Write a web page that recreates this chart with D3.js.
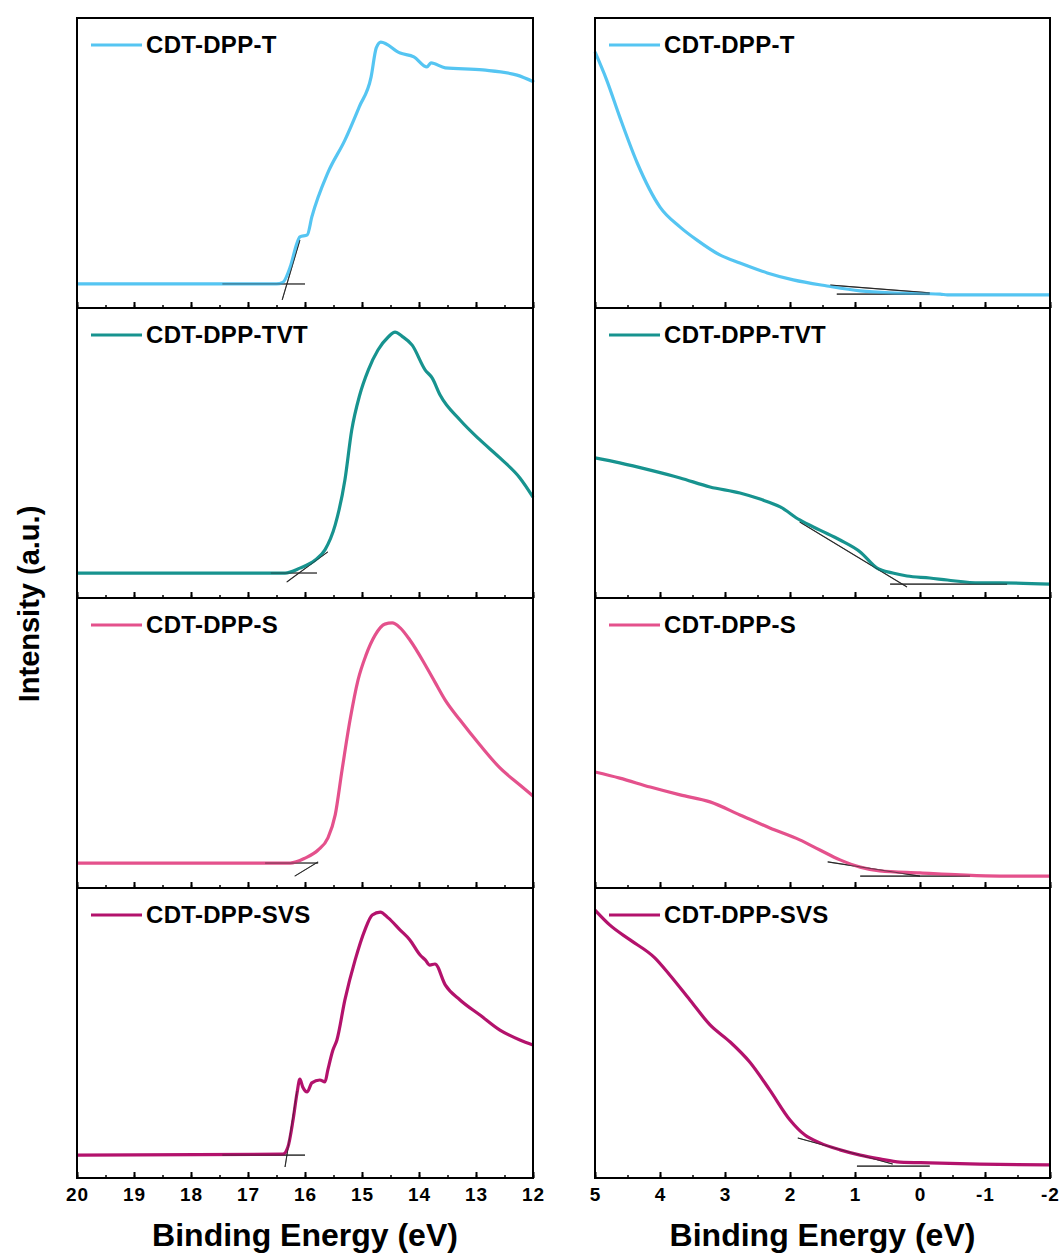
<!DOCTYPE html>
<meta charset="utf-8">
<head>
<title>UPS spectra</title>
<script src="https://d3js.org/d3.v7.min.js"></script>
<style>
  body { margin: 0; background: #fff; }
  text { font-family: "Liberation Sans", Arial, sans-serif; font-weight: bold; }
</style>
</head>
<div id="chart"></div>
<script>
  // series names / colours
  var names = ["CDT-DPP-T", "CDT-DPP-TVT", "CDT-DPP-S", "CDT-DPP-SVS"];
  var colors = ["#55c5f2", "#17938f", "#e4518c", "#b3126c"];

  var leftTicks = [20, 19, 18, 17, 16, 15, 14, 13, 12];
  var rightTicks = [5, 4, 3, 2, 1, 0, -1, -2];

  // [binding energy, intensity] (left = cutoff, right = onset)
  var leftT = [[20,0.083],[17.5,0.083],[16.5,0.083],[16.39,0.088],[16.26,0.141],[16.14,0.224],[16.09,0.245],[15.96,0.252],
    [15.88,0.314],[15.6,0.466],[15.3,0.579],[15.05,0.693],[14.84,0.797],[14.75,0.897],[14.67,0.917],[14.33,0.879],
    [14.09,0.866],[13.86,0.831],[13.79,0.845],[13.54,0.828],[12.88,0.821],[12.28,0.803],[11.98,0.779]];
  var rightT = [[5,0.883],[4.82,0.786],[4.62,0.659],[4.35,0.5],[4,0.348],[3.69,0.279],[3.43,0.234],[3.08,0.183],
    [2.77,0.155],[2.35,0.121],[1.95,0.097],[1.43,0.076],[0.92,0.059],[0.46,0.052],[-0.31,0.048],[-0.42,0.045],[-2,0.045]];

  var leftTVT = [[20,0.086],[16.35,0.086],[16.09,0.103],[15.82,0.131],[15.65,0.166],[15.47,0.252],[15.3,0.407],
    [15.18,0.579],[15.04,0.7],[14.89,0.786],[14.72,0.855],[14.54,0.9],[14.42,0.917],[14.3,0.903],[14.12,0.872],
    [13.89,0.786],[13.77,0.759],[13.63,0.7],[13.28,0.614],[12.93,0.545],[12.58,0.483],[12.23,0.414],[12,0.348]];
  var rightTVT = [[5,0.483],[4.62,0.466],[4.15,0.441],[3.69,0.414],[3.23,0.383],[2.77,0.362],[2.46,0.341],[2.15,0.314],
    [1.85,0.269],[1.54,0.234],[1.23,0.2],[0.92,0.159],[0.66,0.103],[0.42,0.086],[0.2,0.076],[-0.15,0.069],
    [-0.42,0.062],[-0.92,0.052],[-1.23,0.052],[-2,0.048]];

  var leftS = [[20,0.086],[16.26,0.086],[16,0.103],[15.77,0.131],[15.6,0.172],[15.47,0.252],[15.35,0.407],[15.21,0.579],
    [15.07,0.717],[14.93,0.803],[14.77,0.872],[14.6,0.91],[14.47,0.914],[14.33,0.897],[14.16,0.855],[13.89,0.769],
    [13.72,0.71],[13.54,0.648],[13.28,0.579],[12.93,0.493],[12.58,0.414],[12.23,0.355],[12,0.317]];
  var rightS = [[5,0.4],[4.62,0.379],[4.15,0.348],[3.69,0.321],[3.23,0.297],[2.77,0.252],[2.31,0.207],[1.85,0.166],
    [1.54,0.131],[1.23,0.097],[0.92,0.072],[0.62,0.059],[0,0.052],[-0.62,0.045],[-1.23,0.041],[-2,0.041]];

  var leftSVS = [[20,0.079],[16.39,0.082],[16.3,0.107],[16.21,0.2],[16.14,0.293],[16.09,0.341],[16.04,0.314],[15.96,0.297],
    [15.88,0.328],[15.74,0.338],[15.65,0.331],[15.6,0.372],[15.51,0.441],[15.44,0.476],[15.3,0.614],[15.12,0.752],
    [14.95,0.855],[14.82,0.907],[14.68,0.917],[14.54,0.897],[14.33,0.855],[14.16,0.821],[13.98,0.769],[13.89,0.752],
    [13.81,0.734],[13.72,0.738],[13.54,0.666],[13.28,0.614],[12.93,0.562],[12.58,0.51],[12.23,0.476],[12,0.459]];
  var rightSVS = [[5,0.924],[4.77,0.872],[4.46,0.821],[4.08,0.759],[3.85,0.7],[3.54,0.614],[3.23,0.528],[2.92,0.469],
    [2.62,0.4],[2.31,0.303],[2,0.2],[1.77,0.148],[1.54,0.121],[1.23,0.097],[0.92,0.079],[0.62,0.066],[0.31,0.055],
    [-0.15,0.052],[-0.92,0.048],[-2,0.045]];

  // tangent (extrapolation) lines: pairs of [energy, intensity]
  var leftTangents = [
    [[[17.45,0.083],[16.0,0.083]], [[16.4,0.028],[16.09,0.234]]],
    [[[16.6,0.086],[15.79,0.086]], [[16.32,0.055],[15.6,0.159]]],
    [[[16.7,0.086],[15.77,0.086]], [[16.18,0.041],[15.77,0.09]]],
    [[[17.45,0.079],[16.0,0.079]], [[16.35,0.038],[16.14,0.3]]]
  ];
  var rightTangents = [
    [[[1.28,0.048],[-0.15,0.048]], [[1.38,0.079],[-0.15,0.052]]],
    [[[0.46,0.048],[-1.34,0.048]], [[1.85,0.262],[0.2,0.038]]],
    [[[0.92,0.041],[-0.77,0.041]], [[1.42,0.09],[0.0,0.041]]],
    [[[0.97,0.041],[-0.15,0.041]], [[1.88,0.138],[0.42,0.048]]]
  ];

  var leftData = [leftT, leftTVT, leftS, leftSVS];
  var rightData = [rightT, rightTVT, rightS, rightSVS];

  // layout
  var W = 1062, H = 1254;
  var top0 = 18, panelH = 290;
  var svg = d3.select("#chart").append("svg")
    .attr("width", W).attr("height", H);

  var xL = d3.scaleLinear().domain([20, 12]).range([77, 533]);
  var xR = d3.scaleLinear().domain([5, -2]).range([595, 1050]);

  function drawColumn(x, data, tangents, ticks, minorStep) {
    var x0 = x.range()[0], x1 = x.range()[1];
    var d0 = x.domain()[0], d1 = x.domain()[1];
    var minor = d3.range(Math.min(d0, d1), Math.max(d0, d1) + 0.001, minorStep);

    names.forEach(function(name, i) {
      var pt = top0 + i * panelH;
      var y = d3.scaleLinear().domain([0, 1]).range([pt + panelH, pt]);
      var line = d3.line().x(function(d) { return x(d[0]); }).y(function(d) { return y(d[1]); });
      var g = svg.append("g");

      // tangent lines
      tangents[i].forEach(function(t) {
        g.append("path").attr("d", line(t))
          .attr("fill", "none").attr("stroke", "#333").attr("stroke-width", 1.1);
      });

      // spectrum
      g.append("path")
        .datum(data[i])
        .attr("d", line.curve(d3.curveMonotoneX))
        .attr("fill", "none")
        .attr("stroke", colors[i])
        .attr("stroke-width", 3.2)
        .attr("stroke-linejoin", "round");
      line.curve(d3.curveLinear);

      // redraw tangents faintly over spectrum
      tangents[i].forEach(function(t) {
        g.append("path").attr("d", line(t))
          .attr("fill", "none").attr("stroke", "#222").attr("stroke-width", 1).attr("opacity", 0.6);
      });

      // bottom ticks (inward)
      var ax = d3.axisBottom(x).tickValues(ticks).tickSize(-6).tickFormat("");
      g.append("g").attr("transform", "translate(0," + (pt + panelH) + ")")
        .call(ax).call(function(s) { s.select(".domain").remove(); s.selectAll("line").attr("stroke-width", 2); });
      var axm = d3.axisBottom(x).tickValues(minor).tickSize(-3).tickFormat("");
      g.append("g").attr("transform", "translate(0," + (pt + panelH) + ")")
        .call(axm).call(function(s) { s.select(".domain").remove(); s.selectAll("line").attr("stroke-width", 1.5); });

      // frame
      g.append("rect")
        .attr("x", x0).attr("y", pt).attr("width", x1 - x0).attr("height", panelH)
        .attr("fill", "none").attr("stroke", "#000").attr("stroke-width", 2);

      // legend
      g.append("line")
        .attr("x1", x0 + 14).attr("x2", x0 + 65)
        .attr("y1", pt + 27).attr("y2", pt + 27)
        .attr("stroke", colors[i]).attr("stroke-width", 3);
      g.append("text")
        .attr("x", x0 + 69).attr("y", pt + 35)
        .style("font-size", "24px")
        .style("letter-spacing", "0.3px")
        .text(name);
    });

    // tick labels
    var bottom = top0 + 4 * panelH;
    svg.append("g")
      .attr("transform", "translate(0," + bottom + ")")
      .call(d3.axisBottom(x).tickValues(ticks).tickSize(0).tickPadding(10)
        .tickFormat(function(d) { return d < 0 ? "-" + Math.abs(d) : d; }))
      .call(function(s) {
        s.select(".domain").remove();
        s.selectAll("text").style("font-size", "19px").attr("fill", "#000")
          .style("letter-spacing", "1px")
          .style("font-family", "'Liberation Sans', Arial, sans-serif").style("font-weight", "bold");
      });

    // axis title
    svg.append("text")
      .attr("x", (x0 + x1) / 2).attr("y", bottom + 68)
      .attr("text-anchor", "middle")
      .style("font-size", "32px")
      .text("Binding Energy (eV)");
  }

  drawColumn(xL, leftData, leftTangents, leftTicks, 0.5);
  drawColumn(xR, rightData, rightTangents, rightTicks, 0.5);

  // y axis title
  svg.append("text")
    .attr("transform", "translate(39," + (top0 + 2 * panelH + 6) + ") rotate(-90)")
    .attr("text-anchor", "middle")
    .style("font-size", "29px")
    .text("Intensity (a.u.)");
</script>
